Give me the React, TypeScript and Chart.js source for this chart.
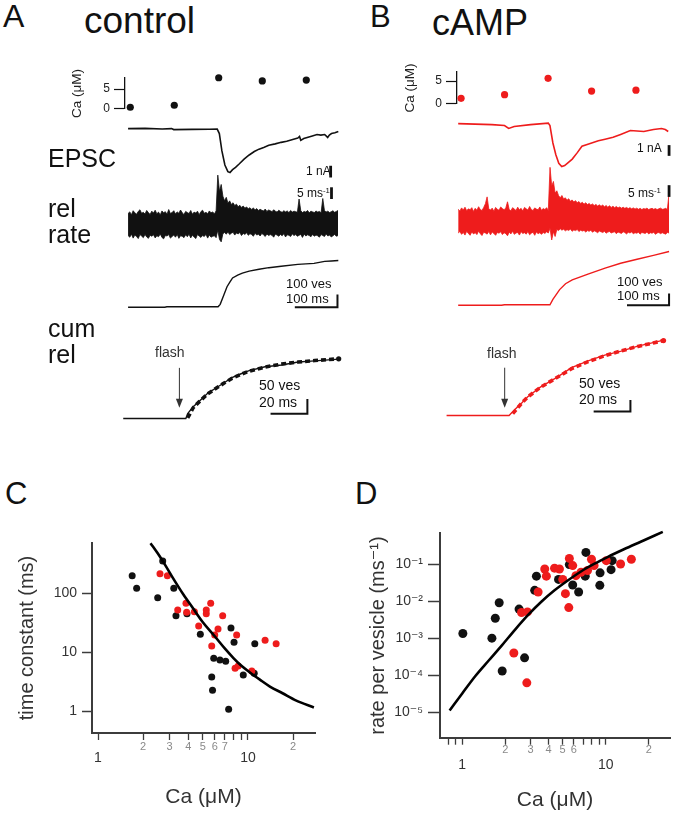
import React, { useEffect, useRef } from "react";
import { Chart, registerables } from "chart.js";

Chart.register(...registerables);

const FONT = '"Liberation Sans", Arial, Helvetica, "DejaVu Sans", sans-serif';
const RED = "#ee1c1c";
const BLACK = "#111111";

// ---------------- Panels A / B : Ca measurements ----------------
const caTimesA = [12, 112, 213, 312, 412]; // ms
const caValuesA = [0.4, 0.9, 7.9, 7.1, 7.3]; // µM
const caTimesB = [14, 114, 214, 314, 416];
const caValuesB = [1.2, 2.0, 5.6, 2.8, 3.0];
const caTickValues = [0, 5];

// EPSC (nA)
const epscTimesA = [0, 40, 80, 102, 107, 150, 190, 209, 214, 220, 227, 234, 239, 245, 252, 261, 272, 284, 296, 307, 318, 330, 345, 359, 372, 386, 398, 402, 405, 412, 420, 432, 443, 452, 461, 468, 472, 477, 485, 493];
const epscA = [0, 0.02, -0.03, 0, -0.08, -0.06, -0.05, -0.04, -0.42, -1.9, -3.1, -3.67, -3.75, -3.5, -3.3, -3.0, -2.6, -2.25, -1.95, -1.75, -1.6, -1.42, -1.3, -1.17, -1.08, -0.92, -0.8, -0.67, -1.0, -0.85, -0.75, -0.62, -0.5, -0.55, -0.5, -0.75, -0.55, -0.42, -0.35, -0.25];
const epscTimesB = [0, 80, 110, 120, 133, 172, 214, 218, 225, 232, 239, 246, 253, 262, 271, 283, 294, 310, 333, 349, 368, 386, 409, 441, 464, 483, 492, 499];
const epscB = [0, -0.09, -0.18, -0.45, -0.27, -0.09, 0.05, -0.18, -1.8, -2.9, -3.7, -4.0, -3.9, -3.6, -3.3, -2.7, -2.1, -1.9, -1.6, -1.45, -1.27, -1.0, -0.64, -0.73, -0.55, -0.45, -0.55, -0.73];

// release rate (ms^-1): upper / lower envelope of the noisy trace, one bin every RATE_DT ms
const RATE_DT_A = 3.97;
const rateUpperA = [
  4.6, 5.3, 4.1, 5.8, 4.9, 4.3, 5.5, 6.2, 4.7, 5.1,
  4.4, 5.9, 5.0, 4.2, 5.6, 4.8, 6.0, 4.5, 5.2, 4.0,
  5.7, 4.9, 5.4, 4.3, 6.3, 4.6, 5.0, 5.8, 4.4, 5.3,
  4.7, 6.1, 4.9, 4.2, 5.5, 5.0, 4.6, 5.9, 4.3, 5.2,
  4.8, 5.6, 4.1, 5.4, 6.0, 4.7, 5.1, 4.5, 5.7, 4.9,
  5.3, 4.4, 5.8,
  21, 14, 17, 12, 10, 11.5, 9.0, 10.0, 8.5, 9.2,
  8.0, 8.6, 7.5, 8.1, 7.2, 7.8, 6.9, 7.4, 6.6, 7.1,
  6.3, 7.0, 6.1, 6.7, 5.9, 6.4, 6.0, 5.7, 6.5, 5.5,
  6.1, 5.8, 5.4, 6.2, 5.6, 5.2, 6.0, 5.5, 5.1, 5.8,
  5.3, 5.7, 5.0, 5.9, 5.2, 5.6, 5.4, 5.1, 10.8, 5.8,
  5.0, 5.5, 5.2, 5.9, 4.9, 5.6, 5.3, 5.0, 5.7, 5.2,
  5.5, 4.9, 11.0, 5.8, 5.3, 5.6, 5.0, 5.4, 5.8, 5.1,
  5.5, 5.9,
];
const rateLowerA = [
  -4.8, -5.5, -4.2, -5.9, -4.6, -5.2, -6.1, -4.4, -5.0, -5.7,
  -4.3, -5.4, -6.0, -4.7, -5.1, -4.5, -5.8, -4.9, -5.3, -4.1,
  -5.6, -6.2, -4.8, -5.0, -4.4, -5.9, -5.2, -4.6, -5.5, -4.3,
  -6.0, -4.9, -5.1, -5.7, -4.5, -5.3, -4.2, -5.8, -4.7, -5.4,
  -6.1, -4.4, -5.0, -5.6, -4.8, -5.2, -4.3, -5.9, -4.6, -5.5,
  -5.1, -4.9, -5.7,
  -2.5, -6.5, -7.5, -4.0, -3.5, -4.2, -3.3, -4.4, -3.8, -3.4,
  -4.6, -3.7, -4.1, -3.5, -4.8, -3.9, -4.3, -3.6, -4.7, -4.0,
  -4.4, -5.1, -3.8, -4.6, -4.2, -5.0, -3.9, -4.5, -5.2, -4.1,
  -4.8, -4.4, -4.7, -5.5, -4.2, -4.6, -5.1, -4.3, -4.9, -4.0,
  -5.4, -4.5, -4.7, -5.2, -4.1, -4.8, -4.4, -5.1, -4.7, -4.3,
  -5.6, -4.2, -5.0, -4.5, -4.8, -5.3, -4.3, -5.1, -4.6, -4.9,
  -5.5, -4.4, -4.8, -5.2, -4.1, -5.0, -4.6, -5.4, -4.9, -4.3,
  -5.1, -4.8,
];
const RATE_DT_B = 4.04;
const rateUpperB = [
  5.1, 4.4, 5.7, 4.8, 6.0, 4.5, 5.3, 4.9, 5.8, 4.2,
  5.5, 4.7, 6.2, 5.0, 4.6, 5.9, 7.5, 10.4, 5.2, 4.8,
  5.6, 4.3, 5.9, 5.1, 4.7, 6.1, 5.4, 4.9, 5.7, 8.3,
  5.0, 4.5, 5.8, 5.2, 4.6, 6.0, 4.9, 5.5, 4.4, 5.9,
  5.3, 4.8, 6.3, 5.0, 4.6, 5.7, 5.2, 4.9, 6.1, 4.7,
  5.4, 5.0, 5.8, 4.6,
  23, 15, 17, 12, 13, 11, 10, 11, 9.5, 10,
  9.0, 9.6, 8.5, 9.1, 8.2, 8.8, 7.9, 8.4, 7.6, 8.1,
  7.3, 7.9, 7.1, 7.6, 6.9, 7.4, 6.7, 7.2, 6.5, 7.0,
  6.4, 6.9, 6.2, 6.7, 6.0, 6.6, 5.9, 6.4, 5.8, 6.3,
  5.7, 6.1, 5.6, 6.0, 5.5, 5.9, 5.4, 5.8, 5.3, 5.7,
  5.2, 5.6, 5.1, 5.5, 5.0, 5.4, 5.2, 5.6, 5.0, 5.3,
  5.5, 5.1, 5.4, 5.0, 5.3, 5.6, 5.1, 5.2, 5.5, 5.0,
  12,
];
const rateLowerB = [
  -5.0, -4.4, -5.6, -4.8, -5.9, -4.3, -5.2, -6.0, -4.6, -5.4,
  -4.9, -5.7, -4.2, -5.3, -6.1, -4.7, -5.0, -5.5, -4.4, -5.8,
  -4.6, -5.2, -6.0, -4.8, -5.1, -4.5, -5.7, -4.9, -5.3, -6.2,
  -4.7, -5.4, -4.3, -5.6, -5.0, -4.8, -5.9, -4.5, -5.2, -4.9,
  -5.5, -4.4, -5.8, -5.1, -4.7, -6.0, -4.6, -5.3, -4.9, -5.6,
  -4.8, -5.2, -4.5, -5.0,
  -3.0, -8.0, -4.5, -6.5, -3.5, -4.0, -3.2, -3.8, -3.4, -4.1,
  -3.6, -3.9, -3.3, -4.3, -3.7, -4.0, -3.5, -4.4, -3.8, -4.2,
  -3.9, -4.6, -4.0, -4.3, -3.8, -4.7, -4.1, -4.4, -4.9, -4.2,
  -4.5, -4.8, -4.3, -5.1, -4.6, -4.4, -5.0, -4.7, -4.5, -5.3,
  -4.6, -4.9, -5.2, -4.5, -4.8, -5.4, -4.7, -5.0, -4.6, -5.3,
  -4.9, -5.1, -4.7, -5.5, -4.8, -5.0, -5.2, -4.6, -5.4, -4.9,
  -5.1, -4.7, -5.6, -5.0, -4.8, -5.3, -4.9, -5.2, -5.5, -4.8,
  -5.0,
];

// cumulative release (vesicles)
const cumTimesA = [0, 86, 91, 211, 216, 225, 232, 239, 245, 257, 268, 284, 307, 330, 359, 398, 436, 461, 477, 493];
const cumA = [0, 0, 4, 4, 23, 100, 162, 200, 231, 254, 269, 285, 300, 312, 323, 338, 346, 362, 365, 369];
const cumTimesB = [0, 103, 110, 218, 225, 241, 255, 271, 310, 349, 386, 425, 464, 501];
const cumB = [0, 0, 4, 4, 50, 133, 183, 217, 267, 317, 358, 392, 425, 458];

// cumulative release, expanded time base, with fit
const zoomTimesA = [0, 34, 35, 38, 42, 46, 51, 55, 59, 64, 68, 77, 86, 95, 104, 117];
const zoomA = [0, 0, 17, 40, 63, 87, 107, 123, 140, 153, 163, 177, 183, 193, 197, 203];
const fitTimesA = [35, 38, 42, 46, 51, 55, 59, 64, 68, 77, 86, 95, 104, 117];
const fitA = [2, 37, 62, 85, 106, 122, 137, 151, 161, 176, 186, 193, 198, 204];
const zoomTimesB = [0, 34, 37, 41, 44, 51, 60, 68, 77, 86, 95, 104, 113, 118];
const zoomB = [0, 0, 25, 54, 79, 121, 163, 204, 233, 258, 275, 296, 312, 322];
const fitTimesB = [36, 41, 44, 51, 60, 68, 77, 86, 95, 104, 113, 118];
const fitB = [8, 54, 78, 120, 162, 200, 230, 255, 276, 295, 311, 320];

// ---------------- Panel C ----------------
const cCaBlack = [1.69, 1.81, 2.5, 2.7, 3.2, 3.31, 3.92, 4.81, 5.91, 6.5, 7.1, 5.73, 5.8, 7.43, 7.7, 8.07, 11.1, 9.3, 11.0];
const cTauBlack = [196, 120, 83, 349, 120, 41, 44.6, 20, 7.8, 7.3, 7.0, 3.77, 2.24, 1.07, 25.5, 14.6, 13.8, 4.08, 4.35];
const cCaRed = [2.59, 2.9, 3.4, 3.86, 3.9, 4.39, 5.27, 5.27, 5.64, 6.78, 4.69, 6.31, 6.0, 5.73, 8.4, 8.2, 8.6, 10.6, 13.0, 15.4];
const cTauRed = [212, 196, 51.5, 66.8, 47, 48, 51.5, 44.6, 66.8, 41, 27.6, 24.5, 19.4, 12.6, 19.4, 5.3, 5.8, 4.77, 15.8, 13.8];
const cFitCa = [2.24, 2.5, 2.8, 3.2, 3.7, 4.3, 5.0, 6.0, 7.0, 8.0, 9.0, 10.3, 12, 14, 17, 21, 27.5];
const cFitTau = [700, 470, 300, 170, 95, 55, 32, 18.5, 11.5, 7.9, 5.9, 4.5, 3.4, 2.6, 2.0, 1.5, 1.15];
const cXTicks = [1, 2, 3, 4, 5, 6, 7, 8, 9, 10, 20];
const cXLabels = ["1", "2", "3", "4", "5", "6", "7", "", "", "10", "2"];
const cYTicks = [1, 10, 100];
const cYLabels = ["1", "10", "100"];

// ---------------- Panel D ----------------
const dCaBlack = [1.01, 1.61, 1.7, 1.81, 1.9, 2.49, 2.72, 3.2, 3.29, 4.69, 5.58, 5.89, 6.48, 7.2, 7.28, 9.14, 9.1, 10.9, 11.1];
const dRateBlack = [1.35e-3, 1.01e-3, 3.5e-3, 9.2e-3, 1.3e-4, 6.2e-3, 2.95e-4, 0.02, 0.0485, 0.0396, 0.1, 0.028, 0.018, 0.0485, 0.214, 0.0596, 0.0274, 0.073, 0.128];
const dCaRed = [2.29, 2.82, 2.59, 2.85, 3.38, 3.76, 3.86, 4.4, 4.76, 5.24, 5.53, 5.58, 5.89, 6.2, 6.73, 7.96, 8.3, 10.1, 12.7, 15.1, 5.02, 7.47];
const dRateRed = [4.0e-4, 6.2e-5, 5.0e-3, 5.2e-3, 0.018, 0.076, 0.0485, 0.08, 0.076, 0.0163, 6.8e-3, 0.147, 0.094, 0.05, 0.062, 0.14, 0.094, 0.128, 0.104, 0.14, 0.0396, 0.069];
const dFitCa = [0.817, 1.0, 1.235, 1.53, 1.89, 2.33, 2.88, 3.56, 4.4, 5.44, 6.73, 8.3, 10.3, 13.4, 17.4, 25];
const dFitRate = [1.1e-5, 3.19e-5, 9.5e-5, 2.5e-4, 6.45e-4, 1.7e-3, 4.3e-3, 9.8e-3, 0.02, 0.037, 0.065, 0.104, 0.16, 0.26, 0.41, 0.77];
const dXTicks = [0.8, 0.9, 1, 2, 3, 4, 5, 6, 7, 8, 9, 10, 20];
const dXLabels = ["", "", "1", "2", "3", "4", "5", "6", "", "", "", "10", "2"];
const dYTicks = [1e-5, 1e-4, 1e-3, 1e-2, 1e-1];
const dYLabels = ["10⁻⁵", "10⁻⁴", "10⁻³", "10⁻²", "10⁻¹"];

// ---------------- helpers ----------------
const zip = (xs: number[], ys: number[]) => xs.map((x, i) => ({ x, y: ys[i] }));
const series = (dt: number, ys: number[]) => ys.map((y, i) => ({ x: i * dt, y }));

const annotPlugin = {
  id: "annot",
  afterDatasetsDraw(chart: any, _a: any, opts: any) {
    const ctx = chart.ctx;
    ctx.save();
    (opts.bars || []).forEach((b: any) => {
      const xs = chart.scales[b.xs];
      const ys = chart.scales[b.ys];
      ctx.beginPath();
      b.pts.forEach((p: number[], i: number) => {
        const px = xs.getPixelForValue(p[0]);
        const py = ys.getPixelForValue(p[1]);
        if (i === 0) ctx.moveTo(px, py);
        else ctx.lineTo(px, py);
      });
      ctx.lineWidth = b.w;
      ctx.strokeStyle = "#111";
      ctx.lineJoin = "miter";
      ctx.stroke();
    });
    const a = opts.arrow;
    if (a) {
      const xs = chart.scales[a.xs];
      const ys = chart.scales[a.ys];
      const px = xs.getPixelForValue(a.x);
      const y0 = ys.getPixelForValue(a.y0);
      const y1 = ys.getPixelForValue(a.y1);
      ctx.strokeStyle = "#333";
      ctx.fillStyle = "#333";
      ctx.lineWidth = 1;
      ctx.beginPath();
      ctx.moveTo(px, y0);
      ctx.lineTo(px, y1 - 8);
      ctx.stroke();
      ctx.beginPath();
      ctx.moveTo(px - 3.5, y1 - 9);
      ctx.lineTo(px + 3.5, y1 - 9);
      ctx.lineTo(px, y1);
      ctx.closePath();
      ctx.fill();
    }
    ctx.restore();
  },
};

function ChartCanvas({ box, make }: any) {
  const ref = useRef<HTMLCanvasElement | null>(null);
  useEffect(() => {
    if (!ref.current) return;
    const chart = new Chart(ref.current, make());
    return () => chart.destroy();
  }, []);
  return (
    <canvas
      ref={ref}
      width={box.width}
      height={box.height}
      style={{ position: "absolute", left: box.left, top: box.top, width: box.width, height: box.height }}
    />
  );
}

const baseOptions = {
  animation: false,
  responsive: false,
  events: [],
  plugins: { legend: { display: false }, tooltip: { enabled: false } },
};

// ---- trace panels ----
function traceConfig(p: any) {
  const L = p.canvas.left;
  const R = p.canvas.left + p.canvas.width;
  const T = p.canvas.top;
  const B = p.canvas.top + p.canvas.height;
  const hx = (ref: number, ppu: number) => ({ type: "linear", display: false, min: (L - ref) / ppu, max: (R - ref) / ppu });
  const vy = (ref: number, ppu: number) => ({ type: "linear", display: false, min: -(B - ref) / ppu, max: (ref - T) / ppu });
  const line = (data: any, xa: string, ya: string, w: number, extra: any = {}) => ({
    data,
    xAxisID: xa,
    yAxisID: ya,
    showLine: true,
    borderColor: p.color,
    borderWidth: w,
    pointRadius: 0,
    tension: 0,
    clip: false,
    ...extra,
  });
  return () => ({
    type: "scatter",
    data: {
      datasets: [
        line(p.fit, "xz", "yZ", 3.6, {
          borderDash: [5, 3],
          pointRadius: (c: any) => (c.dataIndex === p.fit.length - 1 ? 2.6 : 0),
          pointBackgroundColor: p.color,
          pointBorderWidth: 0,
        }),
        line(p.zoom, "xz", "yZ", 1.4),
        line(p.cum, "x", "yC", 1.4),
        line(p.rateUp, "x", "yR", 0.8, { fill: "+1", backgroundColor: p.color }),
        line(p.rateLo, "x", "yR", 0.8),
        line(p.epsc, "x", "yE", 1.6),
      ],
    },
    options: {
      ...baseOptions,
      layout: { padding: 0 },
      scales: {
        x: hx(p.x0, p.msPx),
        xz: hx(p.xz0, p.zmsPx),
        yE: vy(p.yE0, p.nAPx),
        yR: vy(p.yR0, p.ratePx),
        yC: vy(p.yC0, p.vesPx),
        yZ: vy(p.yZ0, p.zvesPx),
      },
      plugins: { ...baseOptions.plugins, filler: { propagate: false }, annot: { bars: p.bars, arrow: p.arrow } },
    },
    plugins: [annotPlugin],
  });
}

const panelA = {
  color: BLACK,
  canvas: { left: 95, top: 110, width: 260, height: 335 },
  x0: 125, msPx: 0.44,
  xz0: 120, zmsPx: 1.9,
  yE0: 125, nAPx: 12,
  yR0: 223, ratePx: 2.4,
  yC0: 308, vesPx: 0.13,
  yZ0: 422, zvesPx: 0.3,
  epsc: zip(epscTimesA, epscA),
  rateUp: series(RATE_DT_A, rateUpperA),
  rateLo: series(RATE_DT_A, rateLowerA),
  cum: zip(cumTimesA, cumA),
  zoom: zip(zoomTimesA, zoomA),
  fit: zip(fitTimesA, fitA),
  bars: [
    { xs: "x", ys: "yE", pts: [[475, -3.17], [475, -4.17]], w: 2.8 },
    { xs: "x", ys: "yR", pts: [[477, 10.8], [477, 15.8]], w: 2.8 },
    { xs: "x", ys: "yC", pts: [[491, 100], [491, 0], [391, 0]], w: 2 },
    { xs: "xz", ys: "yZ", pts: [[80, 16.7], [100, 16.7], [100, 66.7]], w: 2 },
  ],
  arrow: { xs: "xz", ys: "yZ", x: 30.5, y0: 173, y1: 37 },
};

const panelB = {
  color: RED,
  canvas: { left: 430, top: 105, width: 247, height: 335 },
  x0: 455, msPx: 0.435,
  xz0: 443, zmsPx: 1.9,
  yE0: 120, nAPx: 11,
  yR0: 220, ratePx: 2.4,
  yC0: 306, vesPx: 0.12,
  yZ0: 419, zvesPx: 0.24,
  epsc: zip(epscTimesB, epscB),
  rateUp: series(RATE_DT_B, rateUpperB),
  rateLo: series(RATE_DT_B, rateLowerB),
  cum: zip(cumTimesB, cumB),
  zoom: zip(zoomTimesB, zoomB),
  fit: zip(fitTimesB, fitB),
  bars: [
    { xs: "x", ys: "yE", pts: [[501, -2.0], [501, -3.0]], w: 2.8 },
    { xs: "x", ys: "yR", pts: [[501, 10.4], [501, 15.4]], w: 2.8 },
    { xs: "x", ys: "yC", pts: [[501, 100], [501, 0], [401, 0]], w: 2 },
    { xs: "xz", ys: "yZ", pts: [[80, 16.7], [100, 16.7], [100, 66.7]], w: 2 },
  ],
  arrow: { xs: "xz", ys: "yZ", x: 31.6, y0: 204, y1: 33 },
};

// ---- Ca mini axes ----
function caConfig(s: any) {
  const { canvas, area, t0Px, msPx, unitPx, color, times, values, titleX } = s;
  return () => ({
    type: "scatter",
    data: {
      datasets: [
        { data: zip(times, values), pointRadius: 3.6, pointBackgroundColor: color, pointBorderWidth: 0, clip: false },
      ],
    },
    options: {
      ...baseOptions,
      layout: {
        padding: {
          left: 0,
          top: area.top - canvas.top,
          right: canvas.left + canvas.width - area.right,
          bottom: canvas.top + canvas.height - area.bottom,
        },
      },
      scales: {
        x: { type: "linear", display: false, min: (area.left - t0Px) / msPx, max: (area.right - t0Px) / msPx },
        y: {
          type: "linear",
          position: "left",
          min: 0,
          max: (area.bottom - area.top) / unitPx,
          afterFit: (sc: any) => {
            sc.width = area.left - canvas.left;
          },
          afterBuildTicks: (sc: any) => {
            sc.ticks = caTickValues.map((v) => ({ value: v }));
          },
          border: { display: true, color: "#111", width: 1.3 },
          grid: { display: true, drawOnChartArea: false, drawTicks: true, tickLength: 11, tickColor: "#111", tickWidth: 1.2 },
          ticks: { font: { family: FONT, size: 12 }, color: "#222", padding: 4, callback: (v: any) => String(v) },
          title: {
            display: true,
            text: "Ca (μM)",
            font: { family: FONT, size: 13.5 },
            color: "#222",
            padding: { top: titleX - canvas.left - 8.1, bottom: 0 },
          },
        },
      },
    },
  });
}

const caSpecA = {
  canvas: { left: 66, top: 60, width: 290, height: 60 },
  area: { left: 125, right: 342, top: 78, bottom: 111.7 },
  t0Px: 125, msPx: 0.44, unitPx: 4.3,
  color: BLACK, times: caTimesA, values: caValuesA, titleX: 77,
};
const caSpecB = {
  canvas: { left: 399, top: 54, width: 278, height: 61 },
  area: { left: 457, right: 673, top: 72, bottom: 107 },
  t0Px: 455, msPx: 0.435, unitPx: 5,
  color: RED, times: caTimesB, values: caValuesB, titleX: 410,
};

// ---- log-log scatter panels ----
function logScatterConfig(s: any) {
  const { canvas, area, xRef, yRef, xTicks, xLabels, yTicks, yLabels, yTitle, radius, black, red, fit, xMajorLH, xMinorLH, yTitleX, xTitleY, tickLenY } = s;
  const isMajor = (v: number) => Math.abs(Math.log10(v) - Math.round(Math.log10(v))) < 1e-6;
  const lx = (px: number) => 10 ** (Math.log10(xRef.val) + (px - xRef.px) / xRef.ppd);
  const ly = (px: number) => 10 ** (Math.log10(yRef.val) + (yRef.px - px) / yRef.ppd);
  const axisColor = "#3c3c3c";
  return () => ({
    type: "scatter",
    data: {
      datasets: [
        { data: fit, showLine: true, borderColor: "#000", borderWidth: 2.6, pointRadius: 0, cubicInterpolationMode: "monotone", clip: false },
        { data: red, pointRadius: radius, pointBackgroundColor: RED, pointBorderWidth: 0, clip: false },
        { data: black, pointRadius: radius, pointBackgroundColor: BLACK, pointBorderWidth: 0, clip: false },
      ],
    },
    options: {
      ...baseOptions,
      layout: {
        padding: { left: 0, top: area.top - canvas.top, right: canvas.left + canvas.width - area.right, bottom: 0 },
      },
      scales: {
        x: {
          type: "logarithmic",
          min: lx(area.left),
          max: lx(area.right),
          afterFit: (sc: any) => {
            sc.height = canvas.top + canvas.height - area.bottom;
          },
          afterBuildTicks: (sc: any) => {
            sc.ticks = xTicks.map((v: number) => ({ value: v }));
          },
          border: { display: true, color: axisColor, width: 2 },
          grid: { display: true, drawOnChartArea: false, drawTicks: true, tickLength: 7, tickColor: axisColor, tickWidth: 1.3 },
          ticks: {
            autoSkip: false,
            maxRotation: 0,
            padding: 1,
            callback: (_v: any, i: number) => xLabels[i],
            color: (c: any) => (c.tick && isMajor(c.tick.value) ? "#333" : "#8a8a8a"),
            font: (c: any) =>
              c.tick && isMajor(c.tick.value)
                ? { family: FONT, size: 14, lineHeight: xMajorLH }
                : { family: FONT, size: 11, lineHeight: xMinorLH },
          },
          title: {
            display: true,
            text: "Ca (μM)",
            font: { family: FONT, size: 21 },
            color: "#333",
            padding: { top: 0, bottom: canvas.top + canvas.height - xTitleY - 12.6 },
          },
        },
        y: {
          type: "logarithmic",
          min: ly(area.bottom),
          max: ly(area.top),
          afterFit: (sc: any) => {
            sc.width = area.left - canvas.left;
          },
          afterBuildTicks: (sc: any) => {
            sc.ticks = yTicks.map((v: number) => ({ value: v }));
          },
          border: { display: true, color: axisColor, width: 2 },
          grid: { display: true, drawOnChartArea: false, drawTicks: true, tickLength: tickLenY, tickColor: axisColor, tickWidth: 1.5 },
          ticks: {
            autoSkip: false,
            padding: 5,
            callback: (_v: any, i: number) => yLabels[i],
            color: "#333",
            font: { family: FONT, size: 14 },
          },
          title: {
            display: true,
            text: yTitle,
            font: { family: FONT, size: 20 },
            color: "#333",
            padding: { top: yTitleX - canvas.left - 12, bottom: 0 },
          },
        },
      },
    },
  });
}

const specC = {
  canvas: { left: 0, top: 520, width: 340, height: 298 },
  area: { left: 92, right: 315, top: 543, bottom: 733 },
  xRef: { px: 98, val: 1, ppd: 150 },
  yRef: { px: 711, val: 1, ppd: 59 },
  xTicks: cXTicks, xLabels: cXLabels, yTicks: cYTicks, yLabels: cYLabels,
  yTitle: "time constant (ms)",
  radius: 3.5,
  black: zip(cCaBlack, cTauBlack),
  red: zip(cCaRed, cTauRed),
  fit: zip(cFitCa, cFitTau),
  xMajorLH: "34px", xMinorLH: "12px",
  yTitleX: 27, xTitleY: 797, tickLenY: 10,
};

const specD = {
  canvas: { left: 340, top: 520, width: 337, height: 298 },
  area: { left: 440, right: 670, top: 530.7, bottom: 737.7 },
  xRef: { px: 460, val: 1, ppd: 145 },
  yRef: { px: 562.3, val: 0.1, ppd: 37.35 },
  xTicks: dXTicks, xLabels: dXLabels, yTicks: dYTicks, yLabels: dYLabels,
  yTitle: "rate per vesicle (ms⁻¹)",
  radius: 4.5,
  black: zip(dCaBlack, dRateBlack),
  red: zip(dCaRed, dRateRed),
  fit: zip(dFitCa, dFitRate),
  xMajorLH: "38px", xMinorLH: "9px",
  yTitleX: 378, xTitleY: 800, tickLenY: 12,
};

// ---- text ----
function T({ x, base, size, children, color = "#111" }: any) {
  return (
    <div
      style={{
        position: "absolute",
        left: x,
        top: base - 0.8465 * size,
        fontSize: size,
        lineHeight: 1,
        fontFamily: FONT,
        color,
        whiteSpace: "nowrap",
      }}
    >
      {children}
    </div>
  );
}
const Sup = ({ children }: any) => (
  <span style={{ fontSize: "0.65em", position: "relative", top: "-0.55em", verticalAlign: "baseline" }}>{children}</span>
);

export default function App() {
  return (
    <div
      style={{
        position: "absolute",
        left: 0,
        top: 0,
        width: 677,
        height: 818,
        overflow: "hidden",
        background: "#fff",
      }}
    >
      <ChartCanvas box={caSpecA.canvas} make={caConfig(caSpecA)} />
      <ChartCanvas box={caSpecB.canvas} make={caConfig(caSpecB)} />
      <ChartCanvas box={panelA.canvas} make={traceConfig(panelA)} />
      <ChartCanvas box={panelB.canvas} make={traceConfig(panelB)} />
      <ChartCanvas box={specC.canvas} make={logScatterConfig(specC)} />
      <ChartCanvas box={specD.canvas} make={logScatterConfig(specD)} />

      {/* panel A */}
      <T x={3} base={27} size={32}>A</T>
      <T x={84} base={33} size={37}>control</T>
      <T x={48} base={167} size={25}>EPSC</T>
      <T x={48} base={217} size={25}>rel</T>
      <T x={48} base={243} size={25}>rate</T>
      <T x={48} base={337} size={25}>cum</T>
      <T x={48} base={363} size={25}>rel</T>
      <T x={306} base={175} size={12}>1 nA</T>
      <T x={297} base={197} size={12}>5 ms<Sup>-1</Sup></T>
      <T x={286} base={288} size={13}>100 ves</T>
      <T x={286} base={303} size={13}>100 ms</T>
      <T x={259} base={390} size={14}>50 ves</T>
      <T x={259} base={407} size={14}>20 ms</T>
      <T x={155} base={357} size={14} color="#333">flash</T>

      {/* panel B */}
      <T x={370} base={27} size={31}>B</T>
      <T x={432} base={35} size={36}>cAMP</T>
      <T x={637} base={152} size={12}>1 nA</T>
      <T x={628} base={197} size={12}>5 ms<Sup>-1</Sup></T>
      <T x={617} base={286} size={13}>100 ves</T>
      <T x={617} base={300} size={13}>100 ms</T>
      <T x={579} base={388} size={14}>50 ves</T>
      <T x={579} base={404} size={14}>20 ms</T>
      <T x={487} base={358} size={14} color="#333">flash</T>

      {/* panels C, D */}
      <T x={5} base={504} size={31}>C</T>
      <T x={355} base={504} size={31}>D</T>
    </div>
  );
}
